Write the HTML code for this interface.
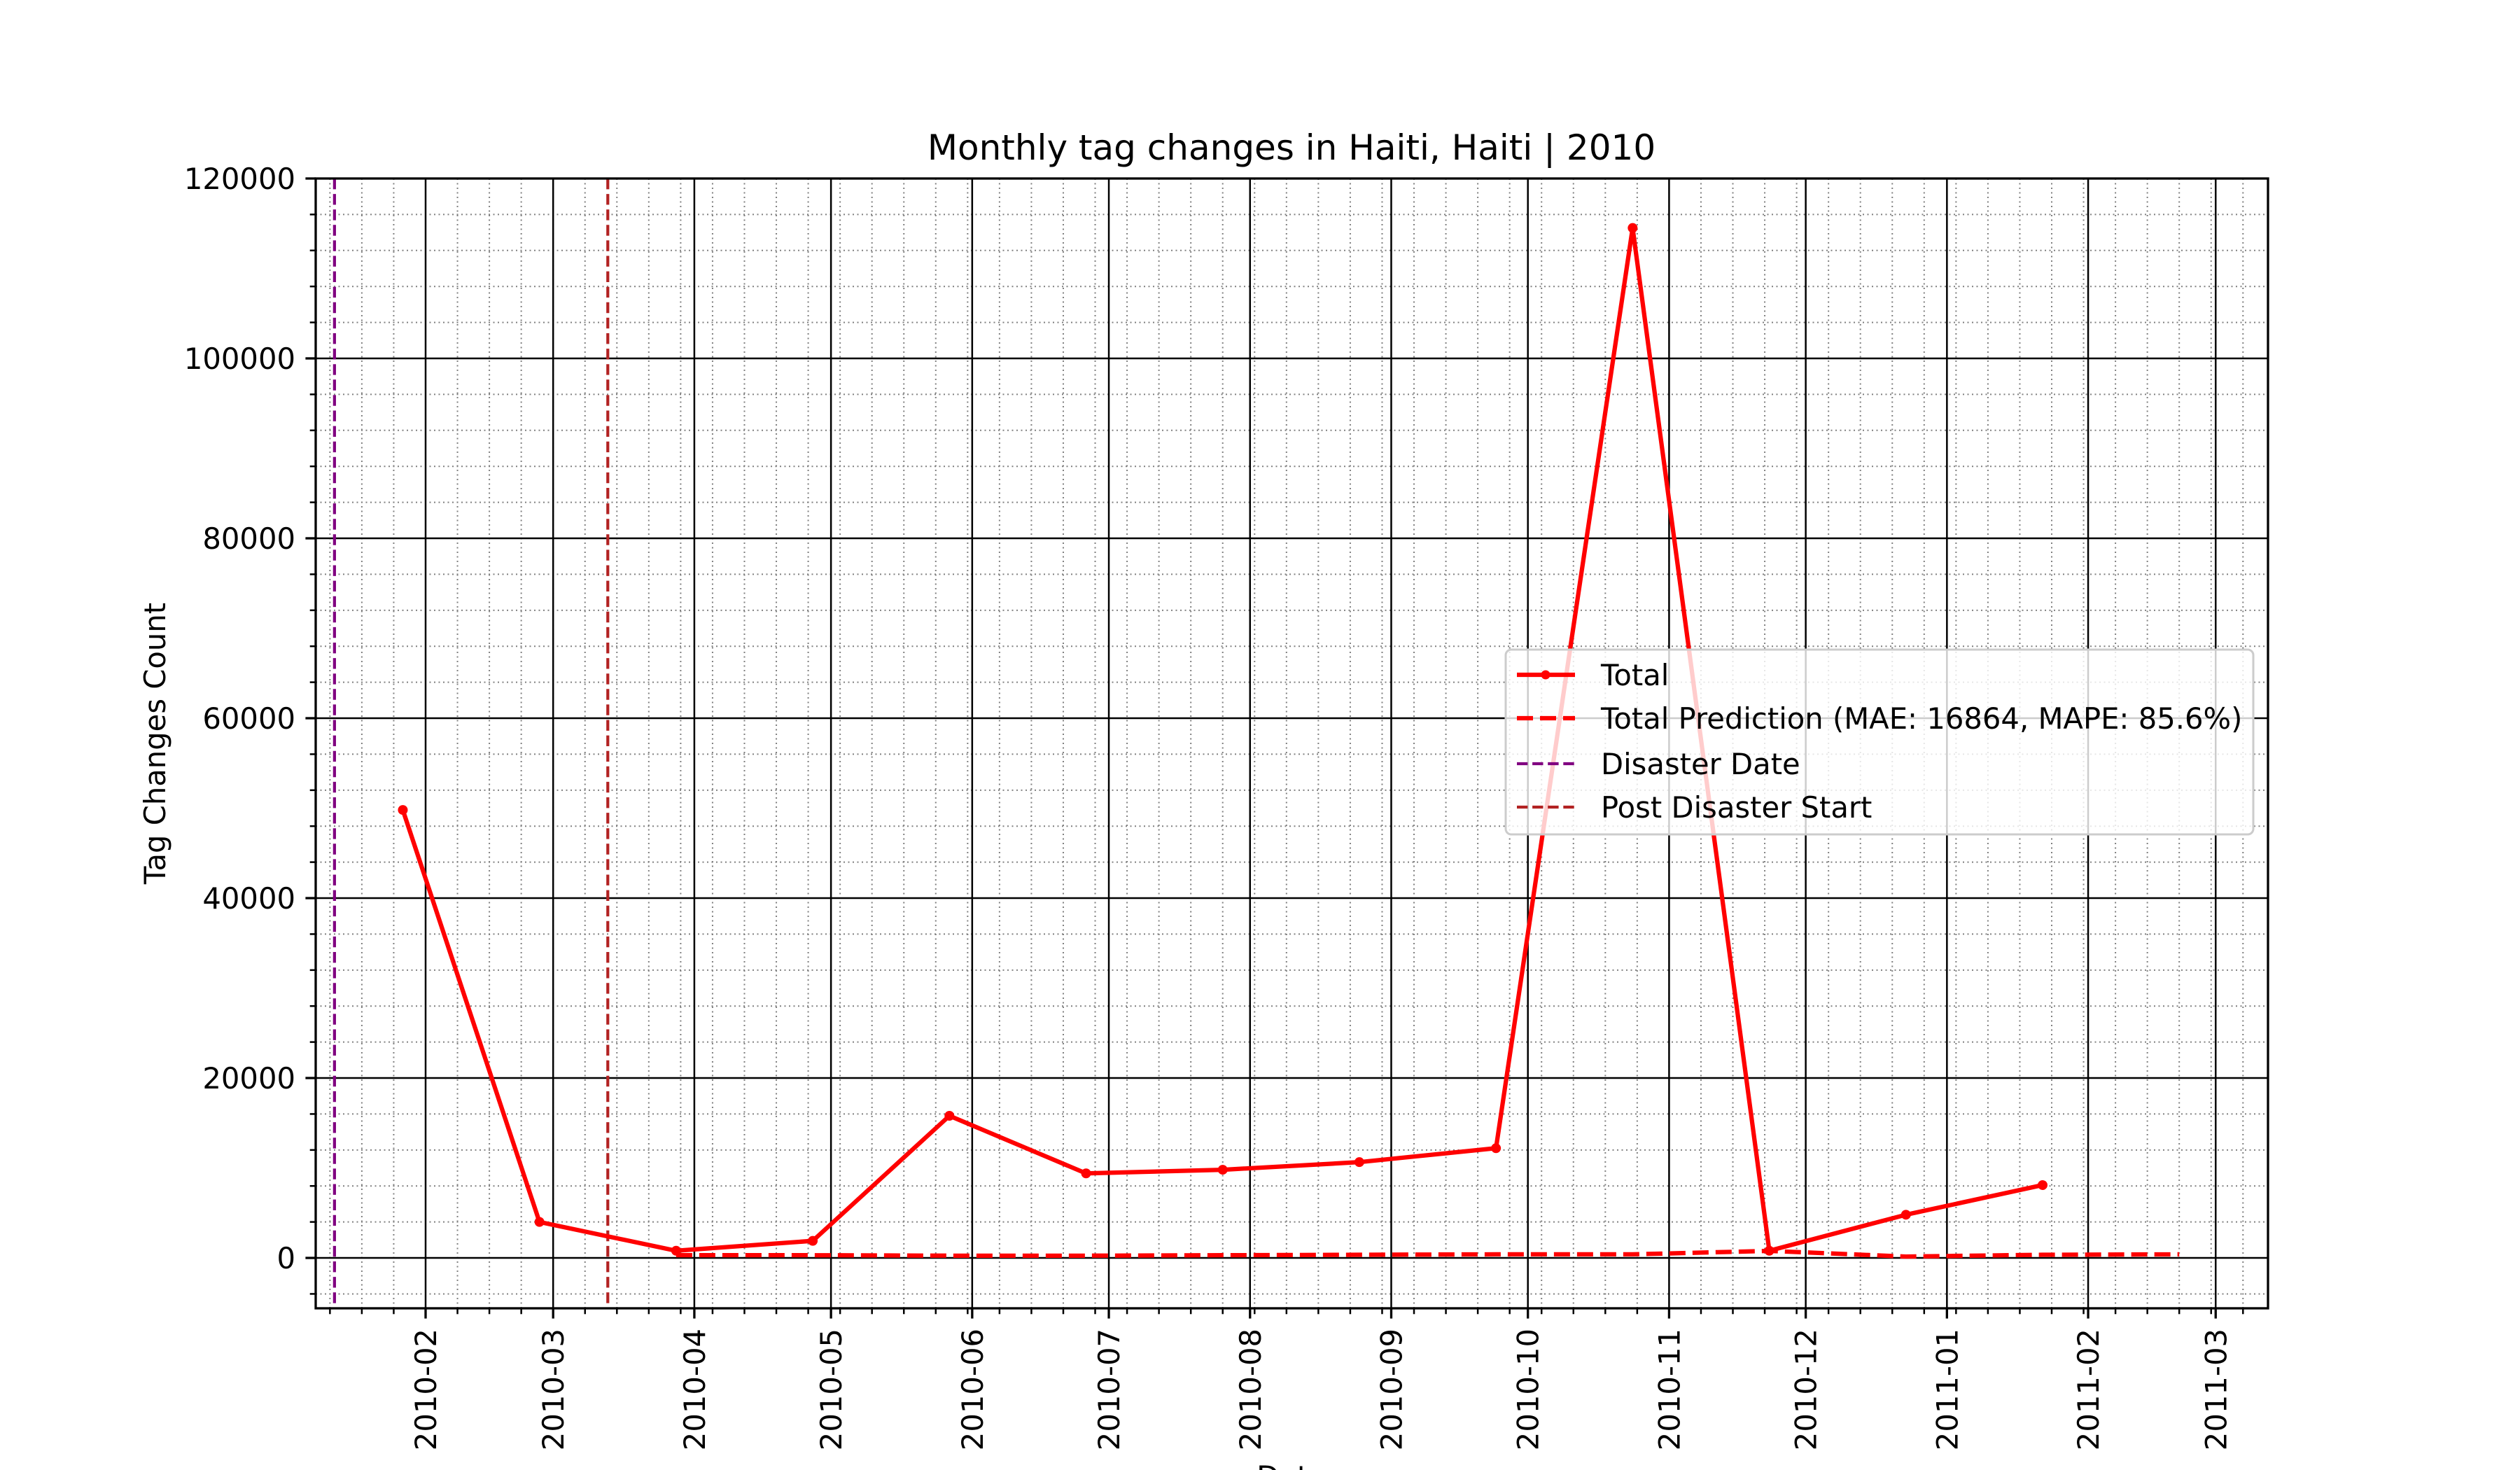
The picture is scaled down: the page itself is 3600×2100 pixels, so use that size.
<!DOCTYPE html>
<html><head><meta charset="utf-8"><style>
html,body{margin:0;padding:0;background:#fff;}
svg{display:block;font-family:"DejaVu Sans","Liberation Sans",sans-serif;}
</style></head><body>
<svg id="chart" xmlns="http://www.w3.org/2000/svg" width="3600" height="2100" viewBox="0 0 3600 2100">
<rect width="3600" height="2100" fill="#fff"/>
<text x="1845" y="228" font-size="50" text-anchor="middle">Monthly tag changes in Haiti, Haiti | 2010</text>
<text x="0" y="0" font-size="41.7" text-anchor="middle" transform="translate(236,1062) rotate(-90)">Tag Changes Count</text>
<text x="1845" y="2124" font-size="41.7" text-anchor="middle">Date</text>
<g id="grid"></g>
<g id="series"></g>
<g id="axes"></g>
<g id="legend">
  <rect x="2151" y="928" width="1068" height="264" rx="8" fill="#fff" fill-opacity="0.8" stroke="#cccccc" stroke-width="3"/>
  <g>
    <line x1="2167" y1="964" x2="2250" y2="964" stroke="#ff0000" stroke-width="6.25"/>
    <circle cx="2208" cy="964" r="6.5" fill="#ff0000"/>
    <text x="2287" y="979" font-size="41.7">Total</text>
  </g>
  <g>
    <line x1="2167" y1="1026" x2="2250" y2="1026" stroke="#ff0000" stroke-width="6.25" stroke-dasharray="23 10"/>
    <text x="2287" y="1041" font-size="41.7">Total Prediction (MAE: 16864, MAPE: 85.6%)</text>
  </g>
  <g>
    <line x1="2167" y1="1091" x2="2250" y2="1091" stroke="#800080" stroke-width="4.2" stroke-dasharray="15.4 6.7"/>
    <text x="2287" y="1106" font-size="41.7">Disaster Date</text>
  </g>
  <g>
    <line x1="2167" y1="1153" x2="2250" y2="1153" stroke="#b22222" stroke-width="4.2" stroke-dasharray="15.4 6.7"/>
    <text x="2287" y="1168" font-size="41.7">Post Disaster Start</text>
  </g>
</g>
</svg>
<script>
const totalStart = '2010-01-27';
const stepDays = 30;
const totalValues = [49800, 4000, 800, 1900, 15800, 9400, 9800, 10650, 12200, 114500, 800, 4800, 8100];
const predStartIndex = 2;
const predValues = [300, 300, 250, 250, 300, 350, 400, 400, 780, 150, 350, 400];
const disasterDate = '2010-01-12';
const postDisasterDate = '2010-03-13';
const xTickLabels = ['2010-02','2010-03','2010-04','2010-05','2010-06','2010-07','2010-08','2010-09','2010-10','2010-11','2010-12','2011-01','2011-02','2011-03'];
const yTickValues = [0, 20000, 40000, 60000, 80000, 100000, 120000];

const NS='http://www.w3.org/2000/svg';
const L=451,R=3240,T=255,B=1869;
const DAY=86400000;
const feb1=Date.UTC(2010,1,1);
const pxPerDay=6.507;
const yMin=-5600,yMax=120000;
function parse(s){const p=s.split('-').map(Number);return Date.UTC(p[0],p[1]-1,p[2]||1);}
function xs(t){return 608+(t-feb1)/DAY*pxPerDay;}
function ys(v){return B-(v-yMin)/(yMax-yMin)*(B-T);}
function mk(tag,attrs,parent){const e=document.createElementNS(NS,tag);for(const k in attrs)e.setAttribute(k,attrs[k]);parent.appendChild(e);return e;}
const grid=document.getElementById('grid'),series=document.getElementById('series'),axes=document.getElementById('axes');

// minor weekly ticks (Mondays)
const tMin=feb1+(L-608)/pxPerDay*DAY, tMax=feb1+(R-608)/pxPerDay*DAY;
let m=Date.UTC(2010,0,4);
while(m<tMax){ if(m>tMin){const x=xs(m);
  mk('line',{x1:x,y1:T,x2:x,y2:B,stroke:'#808080','stroke-width':2,'stroke-dasharray':'2 4.5'},grid);
  mk('line',{x1:x,y1:B,x2:x,y2:B+8.3,stroke:'#000','stroke-width':2.5},axes);}
  m+=7*DAY;}
// minor y
for(let v=-4000;v<=120000;v+=4000){ if(v%20000===0)continue; const y=ys(v); if(y<T||y>B)continue;
  mk('line',{x1:L,y1:y,x2:R,y2:y,stroke:'#808080','stroke-width':2,'stroke-dasharray':'2 4.5'},grid);
  mk('line',{x1:L-8.3,y1:y,x2:L,y2:y,stroke:'#000','stroke-width':2.5},axes);}
// major x
xTickLabels.forEach(lbl=>{const x=xs(parse(lbl));
  mk('line',{x1:x,y1:T,x2:x,y2:B,stroke:'#000','stroke-width':2.5},grid);
  mk('line',{x1:x,y1:B,x2:x,y2:B+14.6,stroke:'#000','stroke-width':3.3},axes);
  const t=mk('text',{transform:`translate(${x+15},1898) rotate(-90)`,'font-size':41.7,'text-anchor':'end'},axes);
  
  
  t.textContent=lbl;});
// major y
yTickValues.forEach(v=>{const y=ys(v);
  mk('line',{x1:L,y1:y,x2:R,y2:y,stroke:'#000','stroke-width':2.5},grid);
  mk('line',{x1:L-14.6,y1:y,x2:L,y2:y,stroke:'#000','stroke-width':3.3},axes);
  const t=mk('text',{x:L-29,y:y+15,'font-size':41.7,'text-anchor':'end'},axes);
  
  
  t.textContent=String(v);});
// spines
mk('rect',{x:L,y:T,width:R-L,height:B-T,fill:'none',stroke:'#000','stroke-width':3.3},axes);

// vertical markers
const dx=xs(parse(disasterDate));
const dl=mk('line',{x1:dx,y1:T,x2:dx,y2:B,stroke:'#800080','stroke-width':4.2,'stroke-dasharray':'15.4 6.7'},series);


const px=xs(parse(postDisasterDate));
const pl=mk('line',{x1:px,y1:T,x2:px,y2:B,stroke:'#b22222','stroke-width':4.2,'stroke-dasharray':'15.4 6.7'},series);



const t0=parse(totalStart);
const predPts=predValues.map((v,i)=>[xs(t0+(predStartIndex+i)*stepDays*DAY),ys(v)]);
const pp=mk('polyline',{points:predPts.map(p=>p.join(',')).join(' '),fill:'none',stroke:'#ff0000','stroke-width':6.25,'stroke-dasharray':'23 10'},series);



const totPts=totalValues.map((v,i)=>[xs(t0+i*stepDays*DAY),ys(v)]);
const tl=mk('polyline',{points:totPts.map(p=>p.join(',')).join(' '),fill:'none',stroke:'#ff0000','stroke-width':6.25,'stroke-linejoin':'round'},series);


totPts.forEach(p=>{const c=mk('circle',{cx:p[0],cy:p[1],r:7,fill:'#ff0000'},series);
  
  });
</script>
</body></html>
